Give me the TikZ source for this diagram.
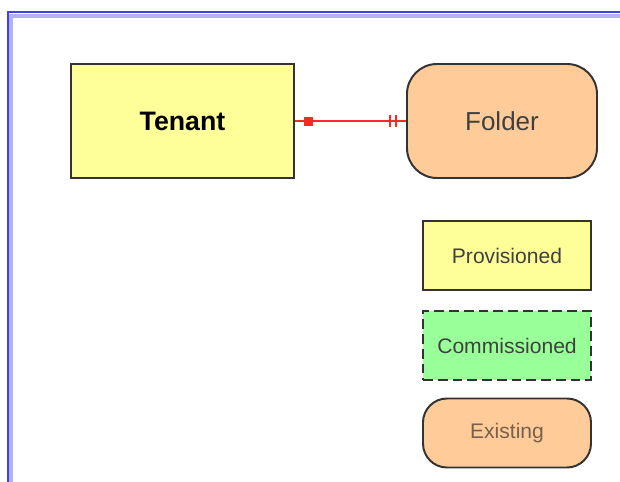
\documentclass[tikz,border=0pt]{standalone}
\usepackage{fontspec}
\setmainfont{Liberation Sans}
\usetikzlibrary{positioning}

\definecolor{provyellow}{RGB}{255,255,153}
\definecolor{commgreen}{RGB}{153,255,153}
\definecolor{existpeach}{RGB}{255,204,153}
\definecolor{framblue}{RGB}{64,64,240}
\definecolor{linkred}{RGB}{255,40,40}

\tikzset{
 entity/.style={draw=black!80,line width=1.4pt,minimum width=4.2cm,minimum height=1.725cm,inner sep=0pt,font=\fontsize{15}{18}\selectfont,text=black!75},
 provbox/.style={entity,fill=provyellow},
 commbox/.style={entity,fill=commgreen,dash pattern=on 7pt off 3.5pt},
 existbox/.style={entity,fill=existpeach,rounded corners=0.6cm,text=black!55!brown!80},
 marker/.style={draw=linkred,fill=linkred,inner sep=0pt}
}

\begin{document}
\begin{tikzpicture}
 \useasboundingbox (0,0) rectangle (15.5,12.05);
 \draw[framblue!40,line width=3pt](0.27,0)--(0.27,11.65)--(15.5,11.65); 
 \draw[framblue,line width=1.5pt](0.19,0)--(0.19,11.74)--(15.5,11.74); 

 \node[provbox,minimum width=5.575cm,minimum height=2.85cm,text=black,font=\fontsize{19}{22}\selectfont\bfseries](tenant) at (4.5625,9.025){Tenant}; 
 \node[existbox,minimum width=4.75cm,minimum height=2.85cm,rounded corners=0.75cm,text=black!75,font=\fontsize{18.5}{21}\selectfont](folder) at (12.55,9.025){Folder}; 

 \draw[linkred,line width=1.5pt](tenant.east)--(folder.west); 
 \node[marker,minimum size=0.2cm](one) at (7.7,9.025){}; 
 \draw[linkred,line width=1.5pt](9.75,8.875)--(9.75,9.175); 
 \draw[linkred,line width=1.5pt](9.9,8.875)--(9.9,9.175); 

 \node[provbox](prov) at (12.675,5.6625){Provisioned}; 
 \node[commbox](comm) at (12.675,3.4125){Commissioned}; 
 \node[existbox](exist) at (12.675,1.225){Existing}; 
\end{tikzpicture}
\end{document}
